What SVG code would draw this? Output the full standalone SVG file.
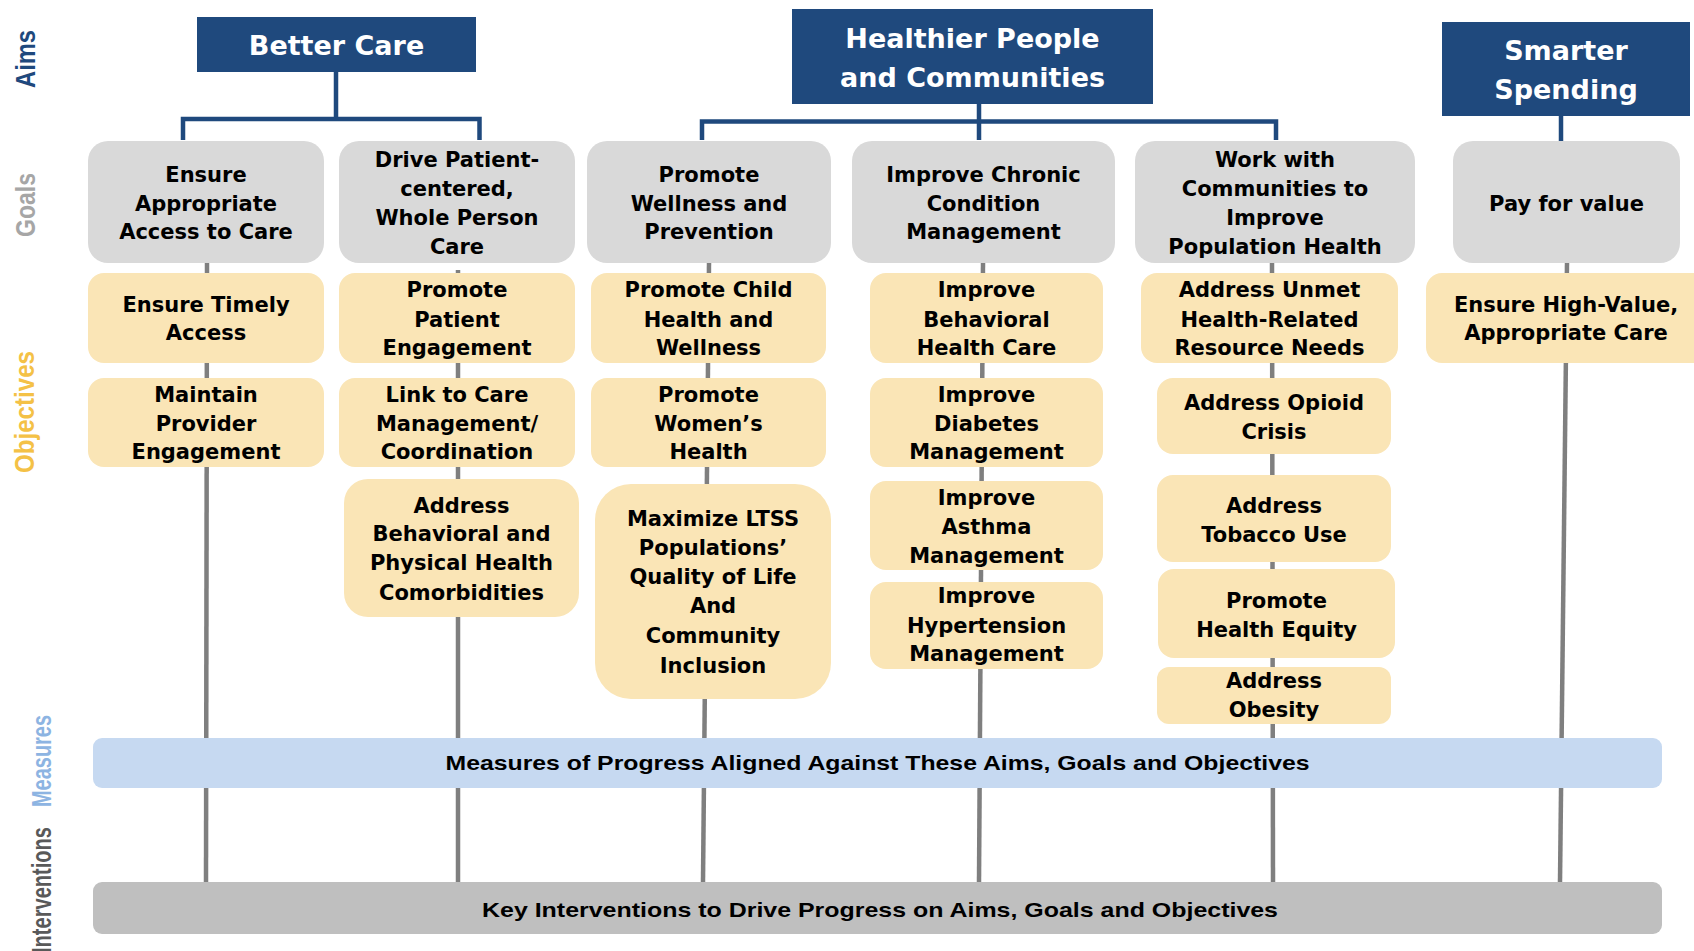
<svg xmlns="http://www.w3.org/2000/svg" width="1694" height="951" viewBox="0 0 1694 951">
<style>
.aim{fill:#1f497d}
.aimt{fill:#fff;font-family:"DejaVu Sans",sans-serif;font-weight:bold;font-size:27px;text-anchor:middle}
.goal{fill:#d9d9d9}
.obj{fill:#fae5b6}
.t{fill:#000;font-family:"DejaVu Sans",sans-serif;font-weight:bold;font-size:21px;text-anchor:middle}
.bl{stroke:#1f497d;stroke-width:4.5;fill:none}
.gl{stroke:#7f7f7f;stroke-width:4.5;fill:none}
.side{font-family:"Liberation Sans",Arial,sans-serif;font-weight:bold;font-size:28px}
.bar{font-family:"Liberation Sans",Arial,sans-serif;font-weight:bold;font-size:21px;fill:#000;text-anchor:middle}
</style>
<rect width="1694" height="951" fill="#fff"/>

<g id="side-labels">
<text class="side" fill="#1f497d" text-anchor="middle" transform="translate(35,59) rotate(-90)" textLength="58" lengthAdjust="spacingAndGlyphs">Aims</text>
<text class="side" fill="#a6a6a6" text-anchor="middle" transform="translate(35,205) rotate(-90)" textLength="64" lengthAdjust="spacingAndGlyphs">Goals</text>
<text class="side" fill="#f4c146" text-anchor="middle" transform="translate(34,412) rotate(-90)" textLength="122" lengthAdjust="spacingAndGlyphs">Objectives</text>
<text class="side" fill="#8db4e2" text-anchor="middle" transform="translate(51,761) rotate(-90)" textLength="92" lengthAdjust="spacingAndGlyphs">Measures</text>
<text class="side" fill="#595959" text-anchor="start" transform="translate(51,953) rotate(-90)" textLength="126" lengthAdjust="spacingAndGlyphs">Interventions</text>
</g>

<g id="connectors">
<path class="bl" d="M336,72 V119 M183,140 V119 H479.5 V140"/>
<path class="bl" d="M979,104 V140 M702,140 V121.5 H1276 V140"/>
<path class="bl" d="M1561,116 V141"/>
<path class="gl" d="M207,263 L206,882"/>
<path class="gl" d="M458,270 L458,882"/>
<path class="gl" d="M709,263 L703,882"/>
<path class="gl" d="M983,263 L979,882"/>
<path class="gl" d="M1272,263 L1273,882"/>
<path class="gl" d="M1567,263 L1560,882"/>
</g>

<g id="aim-better-care">
<rect class="aim" x="197" y="17" width="279" height="55"/>
<text class="aimt" x="336.5" y="55">Better Care</text>
</g>
<g id="aim-healthier">
<rect class="aim" x="792" y="9" width="361" height="95"/>
<text class="aimt" x="972.5" y="47.5">Healthier People</text>
<text class="aimt" x="972.5" y="87">and Communities</text>
</g>
<g id="aim-smarter">
<rect class="aim" x="1442" y="22" width="248" height="94"/>
<text class="aimt" x="1566" y="60">Smarter</text>
<text class="aimt" x="1566" y="99">Spending</text>
</g>

<g id="goal-access">
<rect class="goal" x="88" y="141" width="236" height="122" rx="20"/>
<text class="t" x="206" y="182">Ensure</text>
<text class="t" x="206" y="211">Appropriate</text>
<text class="t" x="206" y="239">Access to Care</text>
</g>
<g id="goal-patient">
<rect class="goal" x="339" y="141" width="236" height="122" rx="20"/>
<text class="t" x="457" y="167">Drive Patient-</text>
<text class="t" x="457" y="196">centered,</text>
<text class="t" x="457" y="225">Whole Person</text>
<text class="t" x="457" y="254">Care</text>
</g>
<g id="goal-wellness">
<rect class="goal" x="587" y="141" width="244" height="122" rx="20"/>
<text class="t" x="709" y="182">Promote</text>
<text class="t" x="709" y="211">Wellness and</text>
<text class="t" x="709" y="239">Prevention</text>
</g>
<g id="goal-chronic">
<rect class="goal" x="852" y="141" width="263" height="122" rx="20"/>
<text class="t" x="983.5" y="182">Improve Chronic</text>
<text class="t" x="983.5" y="211">Condition</text>
<text class="t" x="983.5" y="239">Management</text>
</g>
<g id="goal-communities">
<rect class="goal" x="1135" y="141" width="280" height="122" rx="20"/>
<text class="t" x="1275" y="167">Work with</text>
<text class="t" x="1275" y="196">Communities to</text>
<text class="t" x="1275" y="225">Improve</text>
<text class="t" x="1275" y="254">Population Health</text>
</g>
<g id="goal-value">
<rect class="goal" x="1453" y="141" width="227" height="122" rx="20"/>
<text class="t" x="1566.5" y="211">Pay for value</text>
</g>

<g id="obj-timely">
<rect class="obj" x="88" y="273" width="236" height="90" rx="16"/>
<text class="t" x="206" y="312">Ensure Timely</text>
<text class="t" x="206" y="340">Access</text>
</g>
<g id="obj-provider">
<rect class="obj" x="88" y="378" width="236" height="89" rx="16"/>
<text class="t" x="206" y="402">Maintain</text>
<text class="t" x="206" y="431">Provider</text>
<text class="t" x="206" y="459">Engagement</text>
</g>
<g id="obj-patient">
<rect class="obj" x="339" y="273" width="236" height="90" rx="16"/>
<text class="t" x="457" y="297">Promote</text>
<text class="t" x="457" y="327">Patient</text>
<text class="t" x="457" y="355">Engagement</text>
</g>
<g id="obj-link">
<rect class="obj" x="339" y="378" width="236" height="89" rx="16"/>
<text class="t" x="457" y="402">Link to Care</text>
<text class="t" x="457" y="431">Management/</text>
<text class="t" x="457" y="459">Coordination</text>
</g>
<g id="obj-comorbidities">
<rect class="obj" x="344" y="479" width="235" height="138" rx="24"/>
<text class="t" x="461.5" y="513">Address</text>
<text class="t" x="461.5" y="541">Behavioral and</text>
<text class="t" x="461.5" y="570">Physical Health</text>
<text class="t" x="461.5" y="600">Comorbidities</text>
</g>
<g id="obj-child">
<rect class="obj" x="591" y="273" width="235" height="90" rx="16"/>
<text class="t" x="708.5" y="297">Promote Child</text>
<text class="t" x="708.5" y="327">Health and</text>
<text class="t" x="708.5" y="355">Wellness</text>
</g>
<g id="obj-women">
<rect class="obj" x="591" y="378" width="235" height="89" rx="16"/>
<text class="t" x="708.5" y="402">Promote</text>
<text class="t" x="708.5" y="431">Women’s</text>
<text class="t" x="708.5" y="459">Health</text>
</g>
<g id="obj-ltss">
<rect class="obj" x="595" y="484" width="236" height="215" rx="36"/>
<text class="t" x="713" y="526">Maximize LTSS</text>
<text class="t" x="713" y="555">Populations’</text>
<text class="t" x="713" y="584">Quality of Life</text>
<text class="t" x="713" y="613">And</text>
<text class="t" x="713" y="643">Community</text>
<text class="t" x="713" y="673">Inclusion</text>
</g>
<g id="obj-behavioral">
<rect class="obj" x="870" y="273" width="233" height="90" rx="16"/>
<text class="t" x="986.5" y="297">Improve</text>
<text class="t" x="986.5" y="327">Behavioral</text>
<text class="t" x="986.5" y="355">Health Care</text>
</g>
<g id="obj-diabetes">
<rect class="obj" x="870" y="378" width="233" height="89" rx="16"/>
<text class="t" x="986.5" y="402">Improve</text>
<text class="t" x="986.5" y="431">Diabetes</text>
<text class="t" x="986.5" y="459">Management</text>
</g>
<g id="obj-asthma">
<rect class="obj" x="870" y="481" width="233" height="89" rx="16"/>
<text class="t" x="986.5" y="505">Improve</text>
<text class="t" x="986.5" y="534">Asthma</text>
<text class="t" x="986.5" y="563">Management</text>
</g>
<g id="obj-hypertension">
<rect class="obj" x="870" y="582" width="233" height="87" rx="16"/>
<text class="t" x="986.5" y="603">Improve</text>
<text class="t" x="986.5" y="633">Hypertension</text>
<text class="t" x="986.5" y="661">Management</text>
</g>
<g id="obj-hrsn">
<rect class="obj" x="1141" y="273" width="257" height="90" rx="16"/>
<text class="t" x="1269.5" y="297">Address Unmet</text>
<text class="t" x="1269.5" y="327">Health-Related</text>
<text class="t" x="1269.5" y="355">Resource Needs</text>
</g>
<g id="obj-opioid">
<rect class="obj" x="1157" y="378" width="234" height="76" rx="16"/>
<text class="t" x="1274" y="410">Address Opioid</text>
<text class="t" x="1274" y="439">Crisis</text>
</g>
<g id="obj-tobacco">
<rect class="obj" x="1157" y="475" width="234" height="87" rx="16"/>
<text class="t" x="1274" y="513">Address</text>
<text class="t" x="1274" y="542">Tobacco Use</text>
</g>
<g id="obj-equity">
<rect class="obj" x="1158" y="569" width="237" height="89" rx="16"/>
<text class="t" x="1276.5" y="608">Promote</text>
<text class="t" x="1276.5" y="637">Health Equity</text>
</g>
<g id="obj-obesity">
<rect class="obj" x="1157" y="667" width="234" height="57" rx="12"/>
<text class="t" x="1274" y="688">Address</text>
<text class="t" x="1274" y="717">Obesity</text>
</g>
<g id="obj-highvalue">
<rect class="obj" x="1426" y="273" width="290" height="90" rx="16"/>
<text class="t" x="1566" y="312">Ensure High-Value,</text>
<text class="t" x="1566" y="340">Appropriate Care</text>
</g>

<g id="measures-bar">
<rect x="93" y="738" width="1569" height="50" rx="9" fill="#c6d9f1"/>
<text class="bar" x="877.5" y="770" textLength="864" lengthAdjust="spacingAndGlyphs">Measures of Progress Aligned Against These Aims, Goals and Objectives</text>
</g>
<g id="interventions-bar">
<rect x="93" y="882" width="1569" height="52" rx="9" fill="#bfbfbf"/>
<text class="bar" x="880" y="917" textLength="796" lengthAdjust="spacingAndGlyphs">Key Interventions to Drive Progress on Aims, Goals and Objectives</text>
</g>
</svg>
